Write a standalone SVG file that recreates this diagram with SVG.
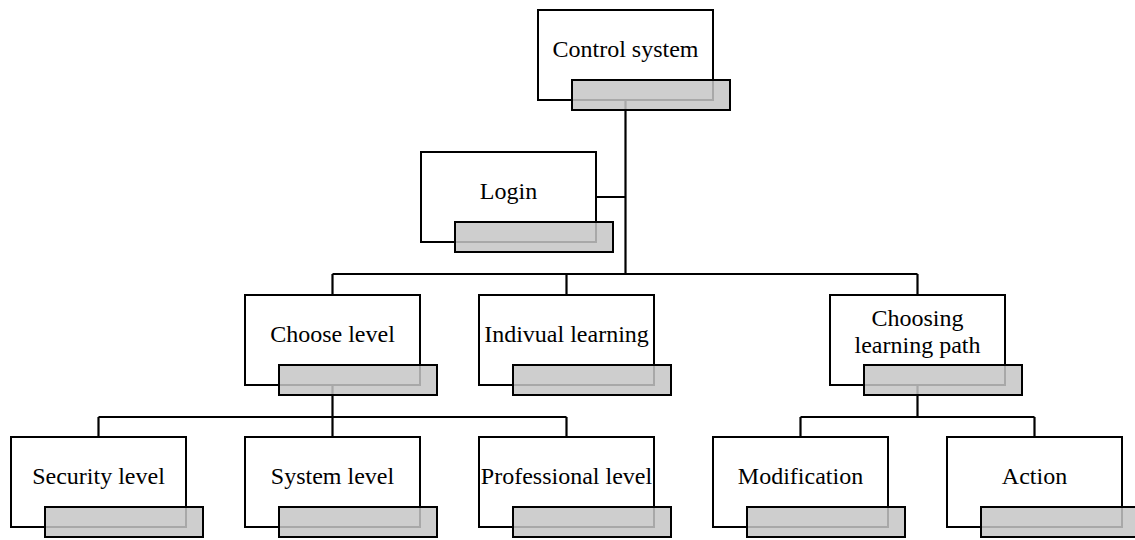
<svg xmlns="http://www.w3.org/2000/svg" width="1135" height="540" viewBox="0 0 1135 540">
<style>
.box{fill:#ffffff;stroke:#000;stroke-width:2}
.tab{fill:#c6c6c6;fill-opacity:0.85;stroke:#000;stroke-width:2}
.lbl{font-family:"Liberation Serif","Times New Roman",serif;font-size:24px;fill:#000;text-anchor:middle}
.con{fill:none;stroke:#000;stroke-width:2.2}
</style>
<rect width="1135" height="540" fill="#ffffff"/>
<g id="connectors">
<path class="con" d="M625.5 100 V274 M596 197 H625.5 M332.5 274 H917.5 M332.5 274 V295 M566.5 274 V295 M917.5 274 V295"/>
<path class="con" d="M332.5 385 V417 M98.5 417 H566.5 M98.5 417 V437 M332.5 417 V437 M566.5 417 V437"/>
<path class="con" d="M917.5 385 V417 M800.5 417 H1034.5 M800.5 417 V437 M1034.5 417 V437"/>
</g>
<g id="control-system">
<rect class="box" x="538" y="10" width="175" height="90"/>
<rect class="tab" x="572" y="80" width="158" height="30"/>
<text class="lbl" x="625.5" y="57">Control system</text>
</g>
<g id="login">
<rect class="box" x="421" y="152" width="175" height="90"/>
<rect class="tab" x="455" y="222" width="158" height="30"/>
<text class="lbl" x="508.5" y="199">Login</text>
</g>
<g id="choose-level">
<rect class="box" x="245" y="295" width="175" height="90"/>
<rect class="tab" x="279" y="365" width="158" height="30"/>
<text class="lbl" x="332.5" y="342">Choose level</text>
</g>
<g id="indivual-learning">
<rect class="box" x="479" y="295" width="175" height="90"/>
<rect class="tab" x="513" y="365" width="158" height="30"/>
<text class="lbl" x="566.5" y="342">Indivual learning</text>
</g>
<g id="choosing-learning-path">
<rect class="box" x="830" y="295" width="175" height="90"/>
<rect class="tab" x="864" y="365" width="158" height="30"/>
<text class="lbl" x="917.5" y="326">Choosing</text>
<text class="lbl" x="917.5" y="353">learning path</text>
</g>
<g id="security-level">
<rect class="box" x="11" y="437" width="175" height="90"/>
<rect class="tab" x="45" y="507" width="158" height="30"/>
<text class="lbl" x="98.5" y="484">Security level</text>
</g>
<g id="system-level">
<rect class="box" x="245" y="437" width="175" height="90"/>
<rect class="tab" x="279" y="507" width="158" height="30"/>
<text class="lbl" x="332.5" y="484">System level</text>
</g>
<g id="professional-level">
<rect class="box" x="479" y="437" width="175" height="90"/>
<rect class="tab" x="513" y="507" width="158" height="30"/>
<text class="lbl" x="566.5" y="484">Professional level</text>
</g>
<g id="modification">
<rect class="box" x="713" y="437" width="175" height="90"/>
<rect class="tab" x="747" y="507" width="158" height="30"/>
<text class="lbl" x="800.5" y="484">Modification</text>
</g>
<g id="action">
<rect class="box" x="947" y="437" width="175" height="90"/>
<rect class="tab" x="981" y="507" width="158" height="30"/>
<text class="lbl" x="1034.5" y="484">Action</text>
</g>
</svg>
